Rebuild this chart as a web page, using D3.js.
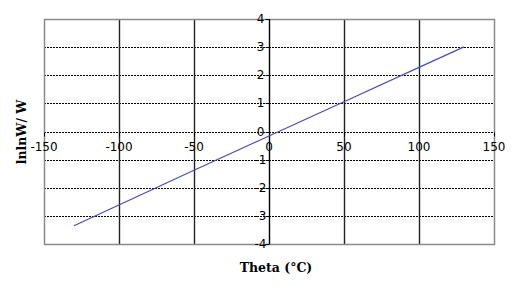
<!DOCTYPE html>
<html>
<head>
<meta charset="utf-8">
<script src="https://cdn.jsdelivr.net/npm/d3@7"></script>
<style>
  body { margin: 0; background: #fff; }
  svg { display: block; }
  .tick-label { font-family: "DejaVu Sans", Verdana, sans-serif; font-size: 12px; fill: #000; }
  .title { font-family: "DejaVu Serif", serif; font-weight: bold; font-size: 12.5px; fill: #000; }
</style>
</head>
<body>
<svg id="chart" width="513" height="292"></svg>
<script>
// data
const thetaValues = [-130, -50, 0, 50, 100, 130];
const lnlnValues = [-3.35, -1.38, -0.16, 1.06, 2.28, 3.01];
const xTicks = [-150, -100, -50, 0, 50, 100, 150];
const yTicks = [-4, -3, -2, -1, 0, 1, 2, 3, 4];

const svg = d3.select("#chart");
const plot = { left: 44, right: 494, top: 19, bottom: 244 };

const x = d3.scaleLinear().domain([-150, 150]).range([plot.left, plot.right]);
const y = d3.scaleLinear().domain([-4, 4]).range([plot.bottom, plot.top]);

// horizontal dashed gridlines
svg.append("g")
  .selectAll("line")
  .data(yTicks.filter(d => d > -4 && d < 4))
  .join("line")
  .attr("x1", plot.left).attr("x2", plot.right)
  .attr("y1", d => Math.round(y(d)) + 0.5).attr("y2", d => Math.round(y(d)) + 0.5)
  .attr("stroke", "#000")
  .attr("stroke-width", 1)
  .attr("stroke-dasharray", "2,1");

// vertical solid gridlines
svg.append("g")
  .selectAll("line")
  .data(xTicks.filter(d => d > -150 && d < 150 && d !== 0))
  .join("line")
  .attr("x1", d => Math.round(x(d)) + 0.5).attr("x2", d => Math.round(x(d)) + 0.5)
  .attr("y1", plot.top).attr("y2", plot.bottom)
  .attr("stroke", "#222")
  .attr("stroke-width", 1.4);

// plot border
svg.append("rect")
  .attr("x", plot.left + 0.5).attr("y", plot.top + 0.5)
  .attr("width", plot.right - plot.left).attr("height", plot.bottom - plot.top)
  .attr("fill", "none")
  .attr("stroke", "#8a8a8a")
  .attr("stroke-width", 1.5);

// y axis at theta = 0
const x0 = Math.round(x(0)) + 0.5;
svg.append("line")
  .attr("x1", x0).attr("x2", x0)
  .attr("y1", plot.top).attr("y2", plot.bottom)
  .attr("stroke", "#000").attr("stroke-width", 1.4);

svg.append("g")
  .selectAll("line")
  .data(yTicks)
  .join("line")
  .attr("x1", x0 - 4).attr("x2", x0)
  .attr("y1", d => Math.round(y(d)) + 0.5).attr("y2", d => Math.round(y(d)) + 0.5)
  .attr("stroke", "#000");

svg.append("g")
  .selectAll("text")
  .data(yTicks)
  .join("text")
  .attr("class", "tick-label")
  .attr("x", x0 - 9)
  .attr("y", d => y(d) + 4)
  .attr("text-anchor", "middle")
  .text(d => d);

// x axis ticks along y = 0
const y0 = Math.round(y(0)) + 0.5;
svg.append("g")
  .selectAll("line")
  .data(xTicks)
  .join("line")
  .attr("x1", d => Math.round(x(d)) + 0.5).attr("x2", d => Math.round(x(d)) + 0.5)
  .attr("y1", y0).attr("y2", y0 + 4)
  .attr("stroke", "#000");

svg.append("g")
  .selectAll("text")
  .data(xTicks)
  .join("text")
  .attr("class", "tick-label")
  .attr("x", d => x(d))
  .attr("y", y0 + 18)
  .attr("text-anchor", "middle")
  .text(d => d);

// data line
const line = d3.line()
  .x((d, i) => x(thetaValues[i]))
  .y(d => y(d));

svg.append("path")
  .datum(lnlnValues)
  .attr("d", line)
  .attr("fill", "none")
  .attr("stroke", "#4b4bb5")
  .attr("stroke-width", 1.2);

// axis titles
svg.append("text")
  .attr("class", "title")
  .attr("x", 276)
  .attr("y", 272)
  .attr("text-anchor", "middle")
  .text("Theta (°C)");

svg.append("text")
  .attr("class", "title")
  .attr("transform", "translate(26,132) rotate(-90)")
  .attr("text-anchor", "middle")
  .text("lnlnW/ W");
</script>
</body>
</html>
